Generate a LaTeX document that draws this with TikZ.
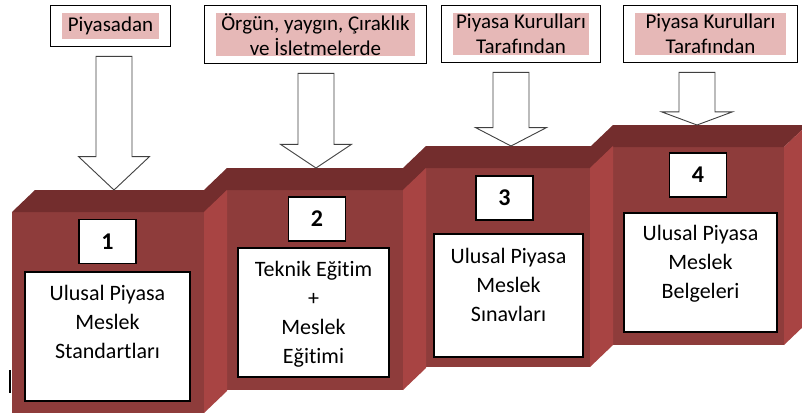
\documentclass[tikz,border=0pt]{standalone}
\usepackage{fontspec}
\setmainfont{Carlito}[Ligatures=NoCommon]
\usetikzlibrary{calc,fit}

\definecolor{frontred}{RGB}{142,60,59}
\definecolor{topred}{RGB}{115,45,45}
\definecolor{sidered}{RGB}{168,68,67}
\definecolor{hlpink}{RGB}{230,184,183}

% one step of the stair: left x, right x, top y, bottom y of the front face
\newcommand{\StepBlock}[4]{
    \fill[frontred] (#1,#3) rectangle (#2,#4);
    \fill[topred] (#1,#3) -- ++(23,-22) -- (#2+23,#3-22) -- (#2,#3) -- cycle;
    \fill[sidered] (#2,#3) -- ++(23,-22) -- (#2+23,#4-22) -- (#2,#4) -- cycle;
}

% hollow block arrow from #1 (tail) down to #2 (tip)
\newcommand{\HollowArrow}[2]{
    \draw[fill=white, draw=black!75, line width=0.9pt] ($(#1)+(-18,0)$) -- ($(#1)+(18,0)$)
        -- ($(#1)!0.75!(#2)+(18,0)$) -- ($(#1)!0.75!(#2)+(35.5,0)$) -- (#2)
        -- ($(#1)!0.75!(#2)+(-35.5,0)$) -- ($(#1)!0.75!(#2)+(-18,0)$) -- cycle;
}

\begin{document}
\begin{tikzpicture}[x=1pt, y=-1pt,
    hl/.style={fill=hlpink, inner sep=0pt, align=center, font=\fontsize{21}{25}\selectfont},
    frame/.style={draw, line width=1.2pt, inner xsep=11.5pt, inner ysep=7.5pt},
    numbox/.style={draw, fill=white, line width=1.2pt, minimum width=57pt, minimum height=44pt, font=\bfseries\fontsize{24}{28}\selectfont},
    textbox/.style={draw, fill=white, line width=1.2pt},
    boxtext/.style={align=center, inner sep=0pt, font=\fontsize{22}{29}\selectfont}]

    \useasboundingbox (0,0) rectangle (802,416);
    \clip (0,0) rectangle (802,416);

    % stair, drawn from the back so each side face lies over the next front
    \StepBlock{590}{784}{147}{345}
    \StepBlock{403}{590}{168}{367}
    \StepBlock{204}{403}{190}{390}
    \StepBlock{12}{204}{212}{413}

    % step numbers
    \node[numbox] (num1) at (107.5,241.5) {1};
    \node[numbox] (num2) at (317,219) {2};
    \node[numbox] (num3) at (504.5,198) {3};
    \node[numbox] (num4) at (698,175) {4};

    % boxes on the steps
    \node[textbox, minimum width=165pt, minimum height=129pt] (box1) at (107.5,336.5) {};
    \node[textbox, minimum width=151pt, minimum height=129pt] (box2) at (313.5,312.5) {};
    \node[textbox, minimum width=149pt, minimum height=123pt] (box3) at (508.5,295.5) {};
    \node[textbox, minimum width=153pt, minimum height=119pt] (box4) at (700.5,272.5) {};
    \node[boxtext] (text1) at (107.5,322) {Ulusal Piyasa\\Meslek\\Standartları};
    \node[boxtext] (text2) at (313.5,314) {Teknik Eğitim\\+\\Meslek\\Eğitimi};
    \node[boxtext] (text3) at (508.5,284.5) {Ulusal Piyasa\\Meslek\\Sınavları};
    \node[boxtext] (text4) at (700.5,263.5) {Ulusal Piyasa\\Meslek\\Belgeleri};

    \draw[line width=2.5pt] (10,370) -- (10,393);

    % labels on top
    \node[hl, minimum width=97pt, minimum height=26pt] (src1) at (110.5,26) {Piyasadan};
    \node[hl, minimum width=199pt, minimum height=43pt] (src2) at (315.5,34.5) {Örgün, yaygın, Çıraklık\\ve İsletmelerde};
    \node[hl, minimum width=136pt, minimum height=42pt] (src3) at (521,34) {Piyasa Kurulları\\Tarafından};
    \node[hl, minimum width=151pt, minimum height=42pt] (src4) at (710.5,34) {Piyasa Kurulları\\Tarafından};
    \foreach \i in {1,...,4}
        \node[frame, fit=(src\i)] (frame\i) {};

    % arrows down to the top of each step
    \coordinate (tip1) at (114,190);
    \coordinate (tip2) at (316,168);
    \coordinate (tip3) at (511,146);
    \coordinate (tip4) at (697,125);
    \foreach \i in {1,...,4} {
        \coordinate (tail\i) at ($(frame\i.south -| tip\i)+(0,9)$);
        \HollowArrow{tail\i}{tip\i}
    }
\end{tikzpicture}
\end{document}
